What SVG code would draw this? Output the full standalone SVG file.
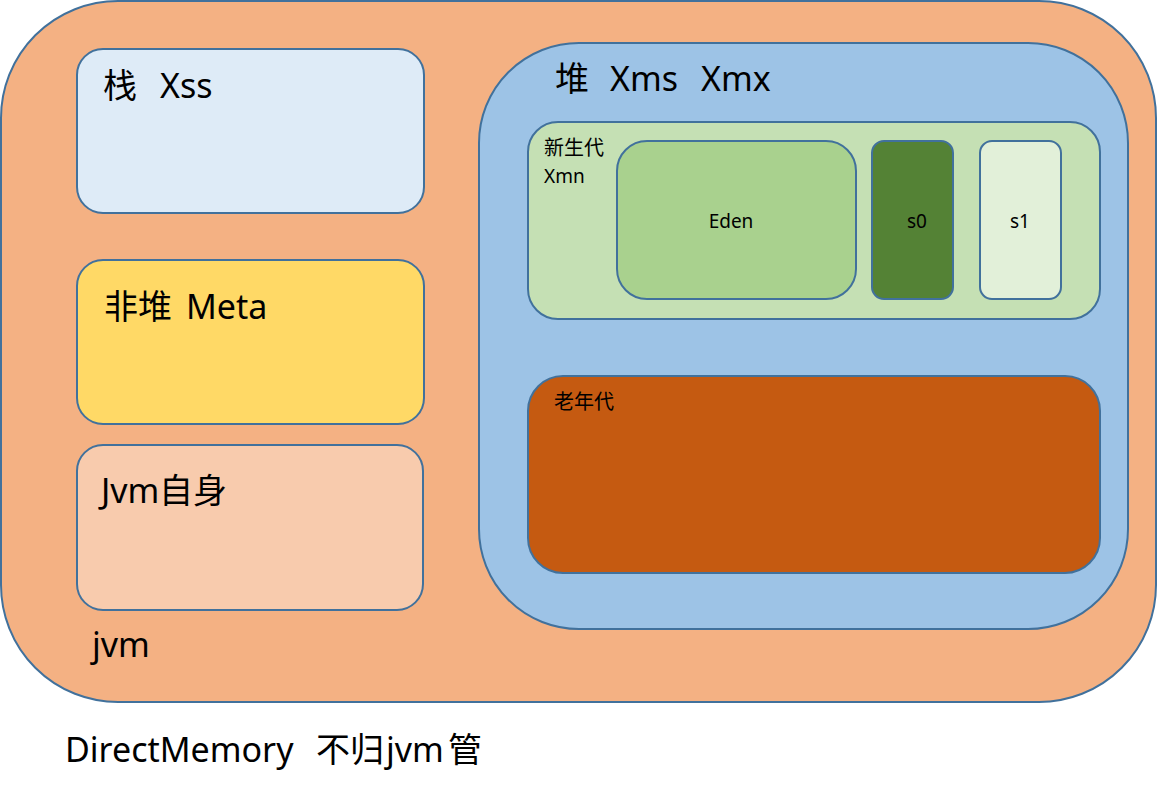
<svg xmlns="http://www.w3.org/2000/svg" width="1157" height="794" viewBox="0 0 1157 794">
<style>
.b{stroke:#41719C;stroke-width:2}
.t{font-family:"Noto Sans","Noto Sans CJK SC",sans-serif;fill:#000}
.L{font-size:34px}
.S{font-size:19px}
.z{font-family:"Noto Sans CJK SC",sans-serif}
.c{text-anchor:middle}
</style>
<rect width="1157" height="794" fill="#fff"/>
<g id="jvm">
<rect class="b" x="1" y="1" width="1155" height="701" rx="117" fill="#F4B183"/>
<text class="t L" x="92" y="657">jvm</text>
</g>
<g id="stack">
<rect class="b" x="77" y="49" width="347" height="164" rx="26" fill="#DEEBF7"/>
<text class="t L" y="98"><tspan class="z" x="103">栈</tspan><tspan x="160">Xss</tspan></text>
</g>
<g id="nonheap">
<rect class="b" x="77" y="260" width="347" height="164" rx="26" fill="#FFD966"/>
<text class="t L" y="319"><tspan class="z" x="104">非堆</tspan><tspan x="186">Meta</tspan></text>
</g>
<g id="jvmself">
<rect class="b" x="77" y="445" width="346" height="165" rx="26" fill="#F8CBAD"/>
<text class="t L" y="503"><tspan x="101">Jvm</tspan><tspan class="z" x="159">自身</tspan></text>
</g>
<g id="heap">
<rect class="b" x="479" y="43" width="649" height="586" rx="100" fill="#9DC3E6"/>
<text class="t L" y="91"><tspan class="z" x="555">堆</tspan><tspan x="610">Xms</tspan><tspan x="701">Xmx</tspan></text>
</g>
<g id="young">
<rect class="b" x="528" y="122" width="572" height="197" rx="30" fill="#C5E0B4"/>
<text class="t S z" x="544" y="155" style="font-size:20px">新生代</text>
<text class="t S" x="544" y="183">Xmn</text>
</g>
<g id="eden">
<rect class="b" x="617" y="141" width="239" height="158" rx="30" fill="#A9D18E"/>
<text class="t S c" x="731" y="228">Eden</text>
</g>
<g id="s0">
<rect class="b" x="872" y="141" width="81" height="158" rx="12" fill="#548235"/>
<text class="t S c" x="917" y="228">s0</text>
</g>
<g id="s1">
<rect class="b" x="980" y="141" width="81" height="158" rx="12" fill="#E2F0D9"/>
<text class="t S c" x="1020" y="228">s1</text>
</g>
<g id="old">
<rect class="b" x="528" y="376" width="572" height="197" rx="35" fill="#C55A11"/>
<text class="t S z" x="554" y="409" style="font-size:20px">老年代</text>
</g>
<g id="connectors"></g>
<g id="direct">
<text class="t L" y="762"><tspan x="65">DirectMemory</tspan><tspan class="z" x="316">不归</tspan><tspan x="386">jvm</tspan><tspan class="z" x="448">管</tspan></text>
</g>
</svg>
